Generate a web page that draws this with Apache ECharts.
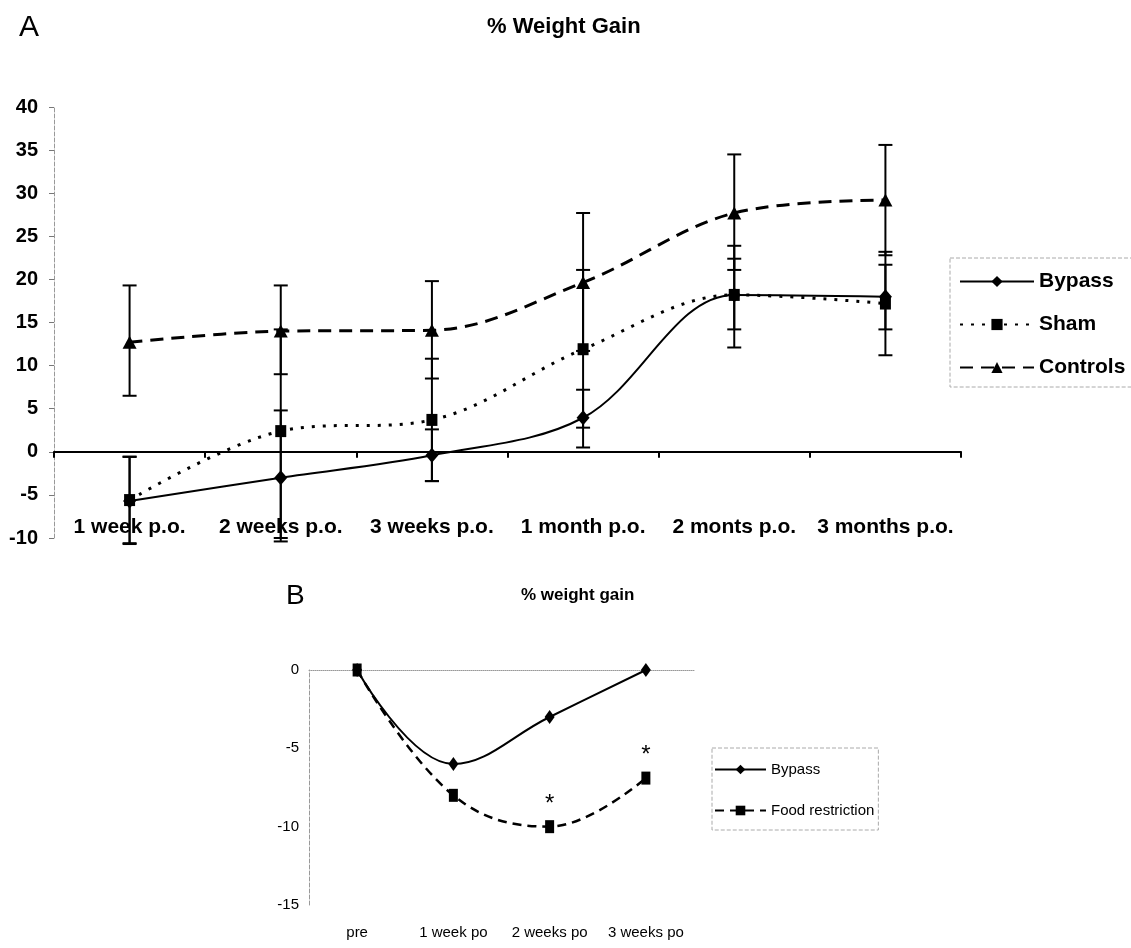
<!DOCTYPE html>
<html>
<head>
<meta charset="utf-8">
<script src="https://cdn.jsdelivr.net/npm/echarts@6/dist/echarts.min.js"></script>
<style>
html,body{margin:0;padding:0;background:#fff;}
#chart{width:1131px;height:948px;}
</style>
</head>
<body>
<div id="chart"></div>
<script>
// ---- Panel A data ----
const catA = ['1 week p.o.', '2 weeks p.o.', '3 weeks p.o.', '1 month p.o.', '2 monts p.o.', '3 months p.o.'];
const bypassA   = [-5.7, -3.0, -0.4, 3.95, 18.2, 18.0];
const shamA     = [-5.6, 2.4, 3.7, 11.9, 18.2, 17.2];
const controlsA = [12.7, 14.0, 14.1, 19.65, 27.7, 29.2];
// error bars [low, high]
const bypassErrA   = [[-10.7, -0.55], [-10.4, 4.8], [-3.4, 2.6], [0.5, 7.2], [12.1, 23.9], [14.2, 21.7]];
const shamErrA     = [[-10.6, -0.6], [-10.0, 14.2], [-3.4, 10.8], [2.8, 21.1], [14.2, 22.4], [11.2, 23.2]];
const controlsErrA = [[6.5, 19.3], [9.0, 19.3], [8.5, 19.8], [11.7, 27.7], [21.1, 34.5], [22.8, 35.6]];

// ---- Panel B data ----
const catB = ['pre', '1 week po', '2 weeks po', '3 weeks po'];
const bypassB = [0, -6.0, -3.0, 0];
const foodB   = [0, -8.0, -10.0, -6.9];
const starB   = ['', '', '*', '*'];

const FA = 'Liberation Sans, Arial, sans-serif';

function errSeries(name, arr) {
  return {
    type: 'custom', name: name, xAxisIndex: 0, yAxisIndex: 0, z: 1,
    encode: { x: 0, y: [1, 2] },
    data: arr.map((d, i) => [i, d[0], d[1]]),
    renderItem: function (params, api) {
      const i = api.value(0);
      const lo = api.coord([i, api.value(1)]);
      const hi = api.coord([i, api.value(2)]);
      const w = 7;
      const st = { stroke: '#000', lineWidth: 2 };
      return { type: 'group', children: [
        { type: 'line', shape: { x1: lo[0], y1: lo[1], x2: hi[0], y2: hi[1] }, style: st },
        { type: 'line', shape: { x1: lo[0] - w, y1: lo[1], x2: lo[0] + w, y2: lo[1] }, style: st },
        { type: 'line', shape: { x1: hi[0] - w, y1: hi[1], x2: hi[0] + w, y2: hi[1] }, style: st }
      ]};
    }
  };
}

const chart = echarts.init(document.getElementById('chart'), null, { renderer: 'canvas' });
chart.setOption({
  animation: false,
  backgroundColor: '#fff',
  title: [
    { text: 'A', left: 14, top: 8, textStyle: { fontFamily: FA, fontSize: 30, fontWeight: 'normal', color: '#000' } },
    { text: '% Weight Gain', left: 482, top: 11, textStyle: { fontFamily: FA, fontSize: 22, fontWeight: 'bold', color: '#000' } },
    { text: 'B', left: 281, top: 577, textStyle: { fontFamily: FA, fontSize: 28, fontWeight: 'normal', color: '#000' } },
    { text: '% weight gain', left: 516, top: 582, textStyle: { fontFamily: FA, fontSize: 17, fontWeight: 'bold', color: '#000' } }
  ],
  legend: [
    {
      data: ['Bypass', 'Sham', 'Controls'],
      orient: 'vertical', left: 950, top: 258,
      padding: [13, 40, 9, 9], itemGap: 22,
      itemWidth: 74, itemHeight: 14,
      borderColor: '#aaa', borderWidth: 1, borderType: 'dashed',
      selectedMode: false,
      textStyle: { fontFamily: FA, fontSize: 21, fontWeight: 'bold', color: '#000' }
    },
    {
      data: ['Bypass ', 'Food restriction'],
      orient: 'vertical', left: 712, top: 748,
      padding: [14, 4, 12, 2], itemGap: 26,
      itemWidth: 51, itemHeight: 12,
      borderColor: '#aaa', borderWidth: 1, borderType: 'dashed',
      selectedMode: false,
      textStyle: { fontFamily: FA, fontSize: 15, color: '#000' }
    }
  ],
  grid: [
    { left: 54, right: 170, top: 107, bottom: 410 },
    { left: 309, right: 437, top: 670, bottom: 43 }
  ],
  xAxis: [
    {
      gridIndex: 0, type: 'category', data: catA, boundaryGap: true,
      axisLine: { onZero: true, lineStyle: { color: '#000', width: 2 } },
      axisTick: { show: true, length: 6, interval: 0, lineStyle: { color: '#000', width: 2 } },
      axisLabel: { interval: 0, margin: -21, fontFamily: FA, fontSize: 21, fontWeight: 'bold', color: '#000' },
      splitLine: { show: false }
    },
    {
      gridIndex: 1, type: 'category', data: catB, boundaryGap: true,
      axisLine: { onZero: true, lineStyle: { color: '#999', width: 1, type: 'dotted' } },
      axisTick: { show: false },
      axisLabel: { show: false },
      splitLine: { show: false }
    },
    {
      gridIndex: 1, type: 'category', data: catB, boundaryGap: true, position: 'bottom',
      axisLine: { show: false, onZero: false },
      axisTick: { show: false },
      axisLabel: { interval: 0, margin: 20, fontFamily: FA, fontSize: 15, color: '#000' },
      splitLine: { show: false }
    }
  ],
  yAxis: [
    {
      gridIndex: 0, type: 'value', min: -10, max: 40, interval: 5,
      axisLine: { show: true, lineStyle: { color: '#999', width: 1, type: 'dashed' } },
      axisTick: { show: true, length: 5, lineStyle: { color: '#777' } },
      axisLabel: { margin: 16, fontFamily: FA, fontSize: 20, fontWeight: 'bold', color: '#000' },
      splitLine: { show: false }
    },
    {
      gridIndex: 1, type: 'value', min: -15, max: 0, interval: 5,
      axisLine: { show: true, lineStyle: { color: '#999', width: 1, type: 'dashed' } },
      axisTick: { show: false },
      axisLabel: { margin: 10, fontFamily: FA, fontSize: 15, color: '#000' },
      splitLine: { show: false }
    }
  ],
  series: [
    errSeries('errBypass', bypassErrA),
    errSeries('errSham', shamErrA),
    errSeries('errControls', controlsErrA),
    {
      name: 'Bypass', type: 'line', xAxisIndex: 0, yAxisIndex: 0, data: bypassA, smooth: 0.35, z: 3,
      symbol: 'diamond', symbolSize: [13, 15],
      lineStyle: { color: '#000', width: 2, type: 'solid' },
      itemStyle: { color: '#000', borderWidth: 0 }
    },
    {
      name: 'Sham', type: 'line', xAxisIndex: 0, yAxisIndex: 0, data: shamA, smooth: 0.35, z: 3,
      symbol: 'rect', symbolSize: [11, 12],
      lineStyle: { color: '#000', width: 3, type: [3, 8] },
      itemStyle: { color: '#000', borderWidth: 0 }
    },
    {
      name: 'Controls', type: 'line', xAxisIndex: 0, yAxisIndex: 0, data: controlsA, smooth: 0.35, z: 3,
      symbol: 'triangle', symbolSize: [14, 13],
      lineStyle: { color: '#000', width: 3, type: [13, 8] },
      itemStyle: { color: '#000', borderWidth: 0 }
    },
    {
      name: 'Bypass ', type: 'line', xAxisIndex: 2, yAxisIndex: 1, data: bypassB, smooth: 0.4, z: 3,
      symbol: 'diamond', symbolSize: [10, 14],
      lineStyle: { color: '#000', width: 2, type: 'solid' },
      itemStyle: { color: '#000', borderWidth: 0 }
    },
    {
      name: 'Food restriction', type: 'line', xAxisIndex: 2, yAxisIndex: 1, data: foodB, smooth: 0.4, z: 3,
      symbol: 'rect', symbolSize: [9, 13],
      lineStyle: { color: '#000', width: 2.5, type: [9, 6] },
      itemStyle: { color: '#000', borderWidth: 0 },
      label: {
        show: true, position: 'top', distance: 4,
        formatter: function (p) { return starB[p.dataIndex]; },
        fontFamily: FA, fontSize: 24, color: '#000'
      }
    }
  ]
});
</script>
</body>
</html>
